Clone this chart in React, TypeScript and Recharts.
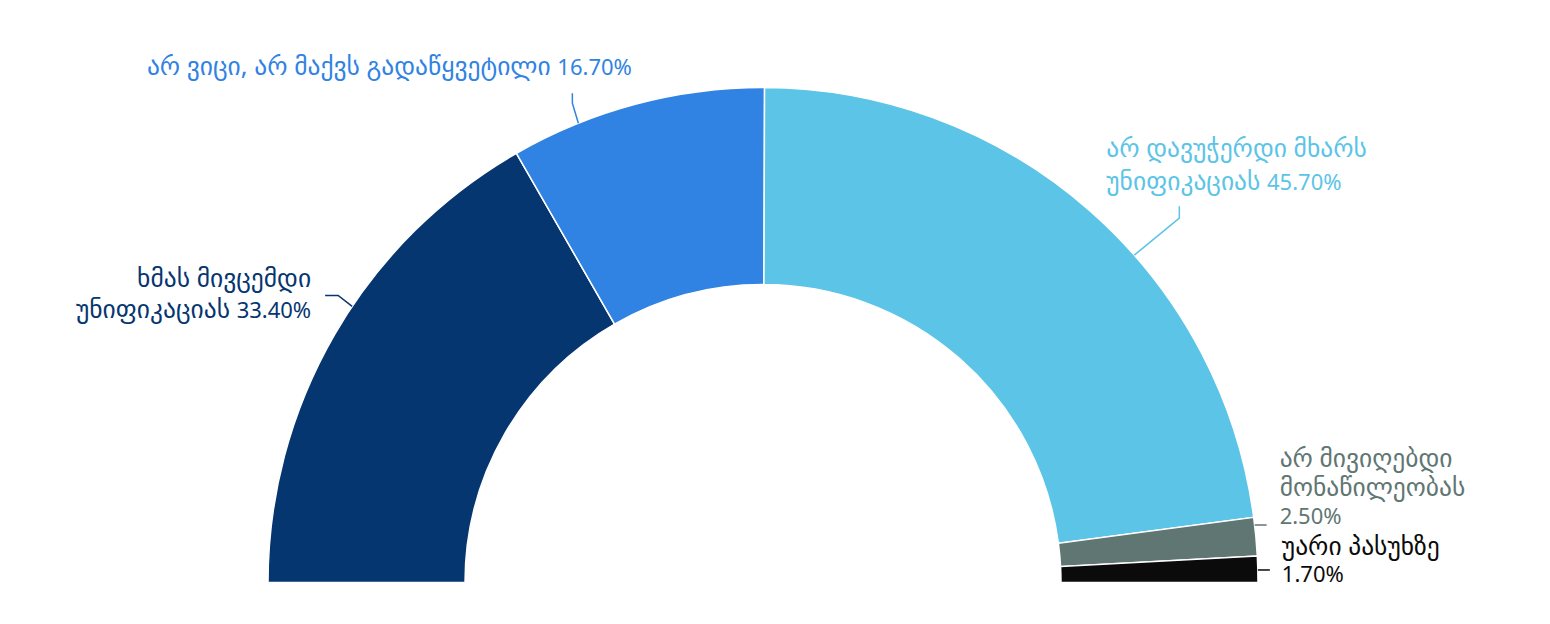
import React from 'react';
import { PieChart, Pie, Cell } from 'recharts';

if (typeof document !== 'undefined') {
  document.body.style.margin = '0';
}

const categories = [
  'ხმას მივცემდი უნიფიკაციას',
  'არ ვიცი, არ მაქვს გადაწყვეტილი',
  'არ დავუჭერდი მხარს უნიფიკაციას',
  'არ მივიღებდი მონაწილეობას',
  'უარი პასუხზე',
];
const values = [33.4, 16.7, 45.7, 2.5, 1.7];
const labelLines = [
  ['ხმას მივცემდი', 'უნიფიკაციას 33.40%'],
  ['არ ვიცი, არ მაქვს გადაწყვეტილი 16.70%'],
  ['არ დავუჭერდი მხარს', 'უნიფიკაციას 45.70%'],
  ['არ მივიღებდი', 'მონაწილეობას', '2.50%'],
  ['უარი პასუხზე', '1.70%'],
];
const colors = ['#06366F', '#3083E3', '#5CC4E6', '#607673', '#0B0B0B'];

const data = categories.map((name, i) => ({ name, value: values[i] }));

// label layout: connector touch angle (deg), connector path offsets, text anchor & offsets
const labelLayout = [
  { angle: 146.1, path: [[-14, -11], [-27, -11]], anchor: 'end', tx: -41, ty: [-19, 12] },
  { angle: 111.9, path: [[-6, -20], [-6, -30]], anchor: 'middle', tx: -189, ty: [-48] },
  { angle: 41.4, path: [[45, -37], [45, -49]], anchor: 'start', tx: -28, ty: [-98, -65] },
  { angle: 6.67, path: [[12, 0]], anchor: 'start', tx: 25, ty: [-58, -29.5, -1] },
  { angle: 1.45, path: [[12, 0]], anchor: 'start', tx: 24, ty: [-15, 12] },
];

const RAD = Math.PI / 180;
const GEO_SIZE = 25.5;
const NUM_SIZE = 22;

const splitLine = (line: string) =>
  line.split(/(\d[\d.]*%)/).filter((s) => s.length > 0);

const renderLabel = (props: any) => {
  const { cx, cy, outerRadius, index } = props;
  const L = labelLayout[index];
  const x0 = cx + outerRadius * Math.cos(L.angle * RAD);
  const y0 = cy - outerRadius * Math.sin(L.angle * RAD);
  const pts = [[x0, y0], ...L.path.map(([dx, dy]) => [x0 + dx, y0 + dy])];
  const d = pts.map((p, i) => `${i ? 'L' : 'M'}${p[0]},${p[1]}`).join(' ');
  const color = colors[index];
  return (
    <g key={`lbl-${index}`}>
      <path d={d} stroke={color} strokeWidth={1.5} fill="none" />
      <text
        x={x0 + L.tx}
        textAnchor={L.anchor as any}
        fill={color}
        fontSize={NUM_SIZE}
        fontFamily="'Noto Sans', 'DejaVu Sans', sans-serif"
      >
        {labelLines[index].map((line, j) => (
          <tspan key={j} x={x0 + L.tx} y={y0 + L.ty[j]}>
            {splitLine(line).map((seg, k) => (
              <tspan key={k} fontSize={/\d/.test(seg) ? NUM_SIZE : GEO_SIZE}>
                {seg}
              </tspan>
            ))}
          </tspan>
        ))}
      </text>
    </g>
  );
};

export default function App() {
  return (
    <div style={{ width: 1550, height: 624, background: '#fff' }}>
      <PieChart width={1550} height={624} margin={{ top: 0, right: 0, bottom: 0, left: 0 }}>
        <Pie
          data={data}
          dataKey="value"
          nameKey="name"
          cx={763}
          cy={582.5}
          startAngle={180}
          endAngle={0}
          innerRadius={298}
          outerRadius={495}
          stroke="#ffffff"
          strokeWidth={1.5}
          label={renderLabel}
          labelLine={false}
          isAnimationActive={false}
        >
          {data.map((d, i) => (
            <Cell key={d.name} fill={colors[i]} />
          ))}
        </Pie>
      </PieChart>
    </div>
  );
}
